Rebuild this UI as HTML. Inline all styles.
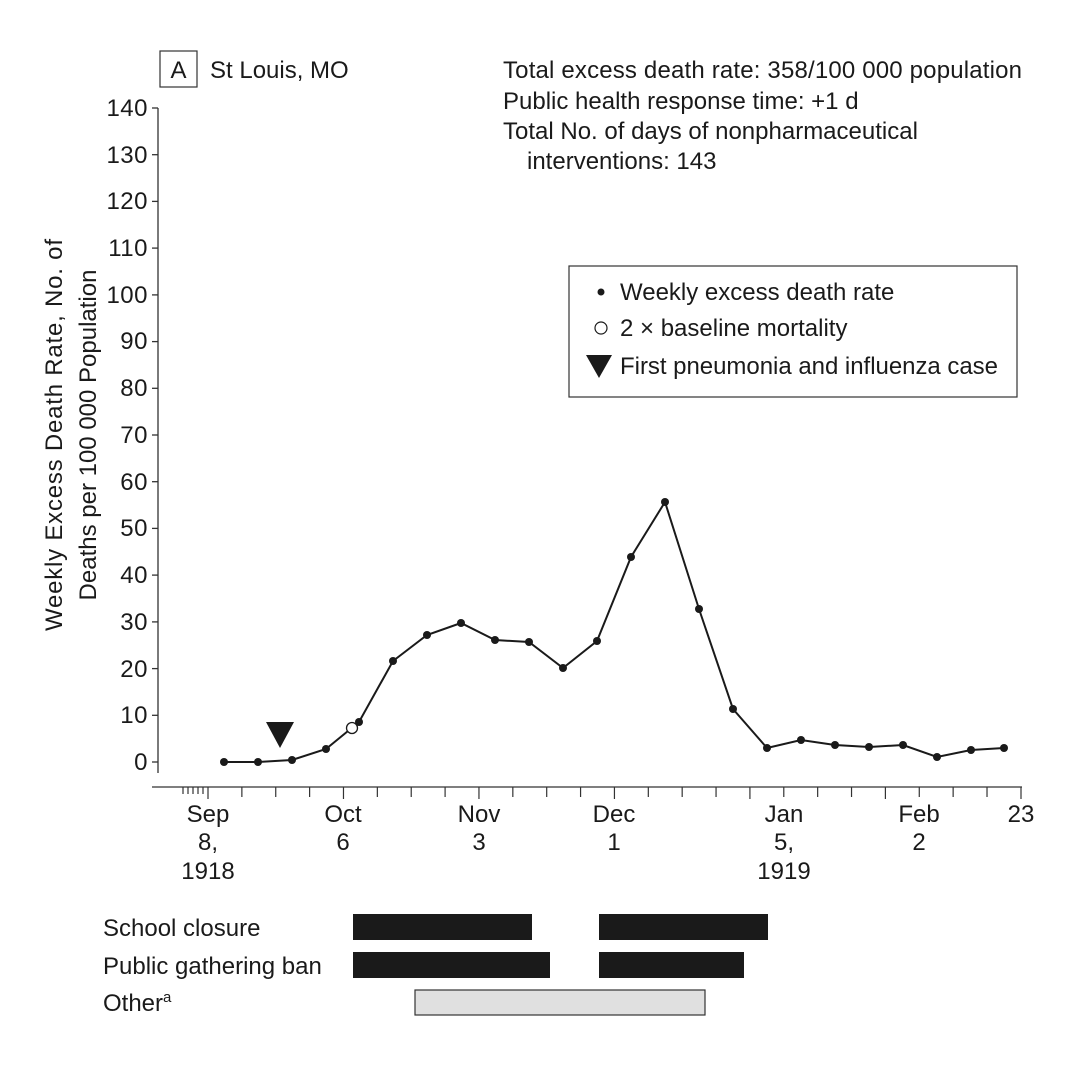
<!DOCTYPE html>
<html><head><meta charset="utf-8"><style>
html,body{margin:0;padding:0;background:#fff}
svg{display:block}
text{font-family:"Liberation Sans",sans-serif;fill:#1a1a1a}
</style></head><body>
<svg width="1068" height="1072" viewBox="0 0 1068 1072" xmlns="http://www.w3.org/2000/svg">
<rect width="1068" height="1072" fill="#fff"/>
<rect x="160" y="51" width="37" height="36" fill="none" stroke="#333" stroke-width="1.2"/>
<text x="178.5" y="78" font-size="24" text-anchor="middle">A</text>
<text x="210" y="78" font-size="24">St Louis, MO</text>
<text x="503" y="78" font-size="24" textLength="519">Total excess death rate: 358/100 000 population</text>
<text x="503" y="109" font-size="24">Public health response time: +1 d</text>
<text x="503" y="139" font-size="24">Total No. of days of nonpharmaceutical</text>
<text x="527" y="169" font-size="24">interventions: 143</text>
<g stroke="#333" stroke-width="1.3" fill="none">
<line x1="158" y1="108" x2="158" y2="773"/>
<line x1="152" y1="787" x2="1022" y2="787"/>
</g>
<g stroke="#333" stroke-width="1.3">
<line x1="152" y1="762" x2="158" y2="762"/><line x1="152" y1="715.3" x2="158" y2="715.3"/><line x1="152" y1="668.6" x2="158" y2="668.6"/><line x1="152" y1="621.9" x2="158" y2="621.9"/><line x1="152" y1="575.1" x2="158" y2="575.1"/><line x1="152" y1="528.4" x2="158" y2="528.4"/><line x1="152" y1="481.7" x2="158" y2="481.7"/><line x1="152" y1="435" x2="158" y2="435"/><line x1="152" y1="388.3" x2="158" y2="388.3"/><line x1="152" y1="341.6" x2="158" y2="341.6"/><line x1="152" y1="294.9" x2="158" y2="294.9"/><line x1="152" y1="248.1" x2="158" y2="248.1"/><line x1="152" y1="201.4" x2="158" y2="201.4"/><line x1="152" y1="154.7" x2="158" y2="154.7"/><line x1="152" y1="108" x2="158" y2="108"/>
</g>
<g font-size="24" text-anchor="end" letter-spacing="0.5">
<text x="148" y="770">0</text><text x="148" y="723">10</text><text x="148" y="677">20</text><text x="148" y="630">30</text><text x="148" y="583">40</text><text x="148" y="536">50</text><text x="148" y="490">60</text><text x="148" y="443">70</text><text x="148" y="396">80</text><text x="148" y="349">90</text><text x="148" y="303">100</text><text x="148" y="256">110</text><text x="148" y="209">120</text><text x="148" y="163">130</text><text x="148" y="116">140</text>
</g>
<text transform="translate(62,435) rotate(-90)" font-size="24" text-anchor="middle" textLength="392">Weekly Excess Death Rate, No. of</text>
<text transform="translate(96,435) rotate(-90)" font-size="24" text-anchor="middle">Deaths per 100 000 Population</text>
<g stroke="#333" stroke-width="1.2">
<line x1="183" y1="787" x2="183" y2="794"/><line x1="188" y1="787" x2="188" y2="794"/><line x1="193" y1="787" x2="193" y2="794"/><line x1="198" y1="787" x2="198" y2="794"/><line x1="203" y1="787" x2="203" y2="794"/>
</g>
<g id="xt" stroke="#333" stroke-width="1.2"></g>
<g font-size="24" text-anchor="middle">
<text x="208" y="822">Sep</text><text x="208" y="850">8,</text><text x="208" y="879">1918</text>
<text x="343" y="822">Oct</text><text x="343" y="850">6</text>
<text x="479" y="822">Nov</text><text x="479" y="850">3</text>
<text x="614" y="822">Dec</text><text x="614" y="850">1</text>
<text x="784" y="822">Jan</text><text x="784" y="850">5,</text><text x="784" y="879">1919</text>
<text x="919" y="822">Feb</text><text x="919" y="850">2</text>
<text x="1021" y="822">23</text>
</g>
<polyline fill="none" stroke="#1a1a1a" stroke-width="2" points="224,762 258,762 292,760 326,749 359,722 393,661 427,635 461,623 495,640 529,642 563,668 597,641 631,557 665,502 699,609 733,709 767,748 801,740 835,745 869,747 903,745 937,757 971,750 1004,748"/>
<g id="pts" fill="#1a1a1a"></g>
<circle cx="352" cy="728" r="5.5" fill="#fff" stroke="#1a1a1a" stroke-width="1.3"/>
<polygon points="266,722 294,722 280,748" fill="#1a1a1a"/>
<rect x="569" y="266" width="448" height="131" fill="#fff" stroke="#333" stroke-width="1.2"/>
<circle cx="601" cy="292" r="3.5" fill="#1a1a1a"/>
<text x="620" y="300" font-size="24">Weekly excess death rate</text>
<circle cx="601" cy="328" r="6" fill="#fff" stroke="#1a1a1a" stroke-width="1.2"/>
<text x="620" y="336" font-size="24">2 × baseline mortality</text>
<polygon points="586,355 612,355 599,378" fill="#1a1a1a"/>
<text x="620" y="374" font-size="24" textLength="378">First pneumonia and influenza case</text>
<text x="103" y="936" font-size="24">School closure</text>
<text x="103" y="974" font-size="24">Public gathering ban</text>
<text x="103" y="1011" font-size="24">Other<tspan font-size="15" dy="-9">a</tspan></text>
<rect x="353" y="914" width="179" height="26" fill="#1a1a1a"/>
<rect x="599" y="914" width="169" height="26" fill="#1a1a1a"/>
<rect x="353" y="952" width="197" height="26" fill="#1a1a1a"/>
<rect x="599" y="952" width="145" height="26" fill="#1a1a1a"/>
<rect x="415" y="990" width="290" height="25" fill="#e0e0e0" stroke="#333" stroke-width="1.2"/>
</svg>
<script>
var ns="http://www.w3.org/2000/svg";
var xt=document.getElementById("xt");
for(var i=0;i<24;i++){var x=208+i*33.87;var l=document.createElementNS(ns,"line");l.setAttribute("x1",x);l.setAttribute("x2",x);l.setAttribute("y1",787);l.setAttribute("y2",i%4==0?799:797);xt.appendChild(l);}
var l=document.createElementNS(ns,"line");l.setAttribute("x1",1021);l.setAttribute("x2",1021);l.setAttribute("y1",787);l.setAttribute("y2",799);xt.appendChild(l);
var pts="224,762 258,762 292,760 326,749 359,722 393,661 427,635 461,623 495,640 529,642 563,668 597,641 631,557 665,502 699,609 733,709 767,748 801,740 835,745 869,747 903,745 937,757 971,750 1004,748".split(" ");
var g=document.getElementById("pts");
pts.forEach(function(p){var a=p.split(",");var c=document.createElementNS(ns,"circle");c.setAttribute("cx",a[0]);c.setAttribute("cy",a[1]);c.setAttribute("r",4);g.appendChild(c);});
</script>
</body></html>
